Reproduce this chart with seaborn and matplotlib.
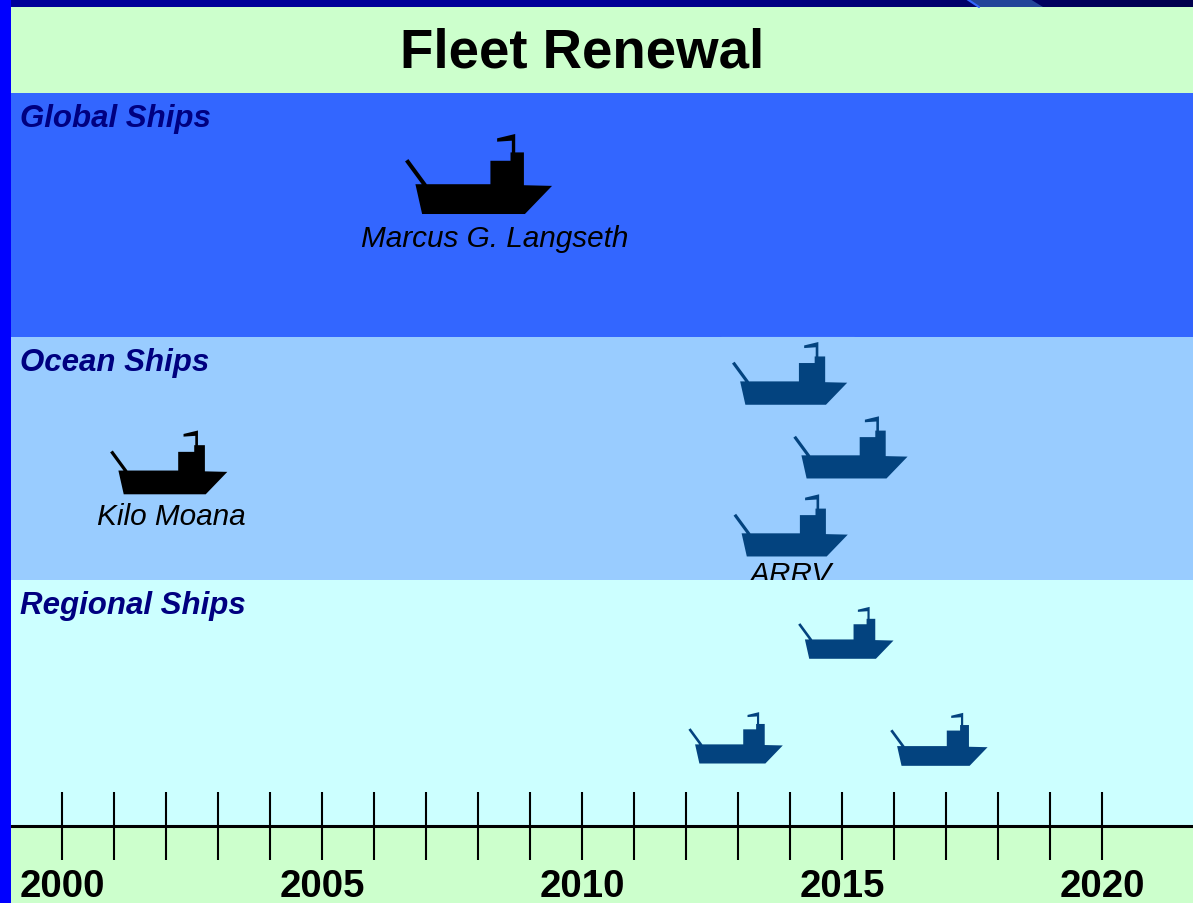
import numpy as np
import pandas as pd
import matplotlib
matplotlib.use('Agg')
import matplotlib.pyplot as plt
from matplotlib.colors import LinearSegmentedColormap
from matplotlib.path import Path
from matplotlib.patches import Polygon
import seaborn as sns

# chart values
tick_years = list(range(2000, 2021))
label_years = [2000, 2005, 2010, 2015, 2020]

band_names = ['Global Ships', 'Ocean Ships', 'Regional Ships']
band_top = [94, 338, 581]
band_bottom = [338, 581, 826]
band_colors = ['#3366FF', '#99CCFF', '#CCFFFF']

ship_year = [2008.02, 2002.06, 2014.0, 2015.17, 2014.02, 2015.08, 2012.96, 2016.87]
ship_lane = [174.5, 463, 374, 448, 526, 633.5, 738.5, 740]
ship_width = [148, 118, 116, 115, 115, 96, 95, 98]
ship_state = ['built', 'built', 'planned', 'planned', 'planned', 'planned', 'planned', 'planned']

name_text = ['Marcus G. Langseth', 'Kilo Moana', 'ARRV']
name_year = [2008.33, 2002.1, 2014.02]
name_lane = [239, 517, 575]

df = pd.DataFrame({'year': ship_year, 'lane': ship_lane, 'width': ship_width, 'state': ship_state})

# ship outline (y up, centred on 0)
outline = [(47, 124), (57, 117), (112, 192), (302, 192), (302, 122), (362, 122), (362, 97),
           (366, 97), (366, 62), (322, 65), (322, 55), (376, 42), (376, 97), (402, 97),
           (402, 195), (486, 197), (405, 281), (98, 281), (78, 192), (97, 192)]
verts = [((x - 268) / 218, (160 - y) / 218) for x, y in outline]
ship_marker = Path(verts + [verts[0]], closed=True)

sns.set_theme(style='white')
plt.rcParams['font.family'] = ['Liberation Sans', 'DejaVu Sans']

fig, ax = plt.subplots(figsize=(11.93, 9.04), dpi=100)
ax.set_position([0, 0, 1, 1])
fig.patch.set_facecolor('#CCFFCC')
ax.set_facecolor('#CCFFCC')

# 1 year = 52 px, 2000 sits at x = 62 px
x0 = 2000 - 62 / 52
x1 = 2000 + (1193 - 62) / 52

# top strip with the dark gradient
top_cmap = LinearSegmentedColormap.from_list('top', ['#000099', '#000099', '#00004D'])
ax.imshow(np.linspace(0, 1, 256).reshape(1, -1), cmap=top_cmap, aspect='auto',
          extent=(x0, x1, 8, 0), zorder=1)
yr = lambda px: 2000 + (px - 62) / 52
ax.add_patch(Polygon([(yr(967), 0), (yr(979), 8), (yr(1043), 8), (yr(1030), 0)],
                     facecolor='#224499', edgecolor='none', zorder=2))
ax.plot([yr(967), yr(979)], [0, 8], color='#3366FF', lw=1.5, zorder=2)

# the three ship classes, the regional band hides the bottom of the ARRV label
for top, bottom, color, name in zip(band_top, band_bottom, band_colors, band_names):
    ax.axhspan(top, bottom, color=color, lw=0, zorder=3 if name != 'Regional Ships' else 6)
    ax.text(yr(20), top + 25, name, color='#000080', fontsize=22.5, fontweight='bold',
            fontstyle='italic', va='center', ha='left', zorder=8)

# pale edge of the pasted ship picture
ax.plot([yr(721), yr(854)], [337.5, 337.5], color='#99CCFF', lw=0.8, zorder=4)

# ships
palette = {'built': '#000000', 'planned': '#03437F'}
sizes = {w: (w * 72 / 100) ** 2 for w in ship_width}
sns.scatterplot(data=df, x='year', y='lane', hue='state', palette=palette, size='width',
                sizes=sizes, marker=ship_marker, linewidth=0, legend=False, ax=ax, zorder=7)

for label, year, lane in zip(name_text, name_year, name_lane):
    ax.text(year, lane, label, color='black', fontsize=21.4, fontstyle='italic',
            ha='center', va='center', zorder=5)

ax.text(yr(582), 54, 'Fleet Renewal', color='black', fontsize=39.3, fontweight='bold',
        ha='center', va='center', zorder=8)

# left edge
ax.axvspan(x0, yr(10.5), color='#0000FF', lw=0, zorder=9)

ax.set_xlim(x0, x1)
ax.set_ylim(904, 0)
ax.set_xlabel('')
ax.set_ylabel('')
ax.set_yticks([])

# timeline is the real x axis
sns.despine(ax=ax, left=True, top=True, right=True)
ax.spines['bottom'].set_position(('data', 826.5))
ax.spines['bottom'].set_linewidth(2.2)
ax.spines['bottom'].set_color('black')
ax.spines['bottom'].set_zorder(8)
ax.set_xticks(tick_years)
ax.set_xticklabels([str(y) if y in label_years else '' for y in tick_years],
                   fontsize=27.7, fontweight='bold', color='black')
ax.tick_params(axis='x', direction='inout', length=49, width=1.5, color='black', pad=6, bottom=True)
ax.xaxis.set_zorder(8)
ax.grid(False)

fig.savefig('out.png', dpi=100)
